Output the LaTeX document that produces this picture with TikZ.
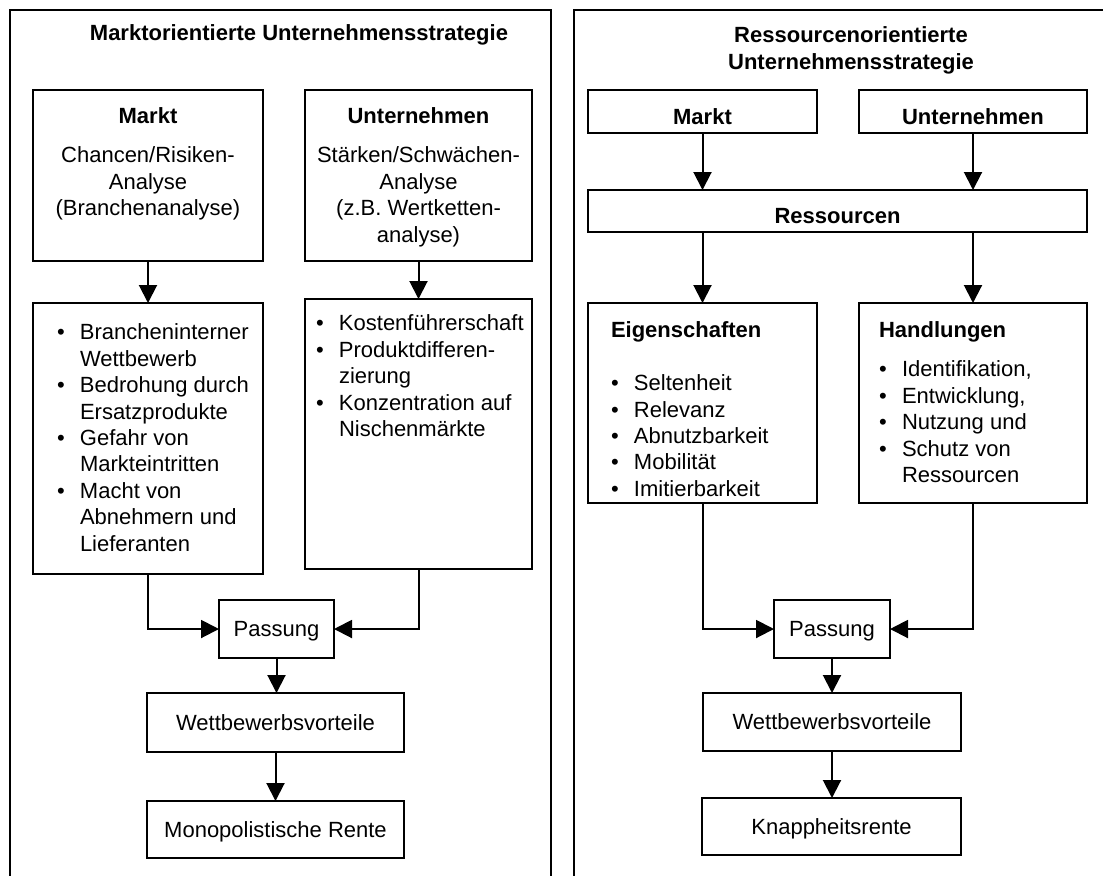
\documentclass[tikz,border=0pt]{standalone}
\usepackage{fontspec}
\setmainfont{Liberation Sans}
\usetikzlibrary{arrows.meta}

\tikzset{
  frame/.style={line width=1.1pt},
  box/.style={draw, line width=1.1pt, inner sep=0pt, outer sep=0pt,
    font=\fontsize{11}{13.2}\selectfont,
    text height=8.9pt, text depth=1.3pt},
  boldbox/.style={box, font=\fontsize{11}{13.2}\selectfont\bfseries,
    text height=12.5pt, text depth=0pt},
  txt/.style={inner sep=0pt, outer sep=0pt, font=\fontsize{11}{13.2}\selectfont},
  arr/.style={line width=1pt, -{Triangle[length=9pt,width=9pt]}}
}

\begin{document}
\begin{tikzpicture}[x=0.5pt, y=-0.5pt]
  \useasboundingbox (0,0) rectangle (1103,875);
  \fill[white] (0,0) rectangle (1103,875);
  \clip (0,0) rectangle (1103,875);

  % ---------- outer frames ----------
  \draw[frame] (10,880) -- (10,10) -- (551,10) -- (551,880);
  \draw[frame] (574,880) -- (574,10) -- (1110,10);

  % ---------- market-oriented strategy ----------
  \node[txt, anchor=north] (ltitle) at (299,24.5)
    {\bfseries Marktorientierte Unternehmensstrategie};

  \node[box, minimum width=115pt, minimum height=85.5pt] (lmarkt) at (148,175.5) {};
  \node[txt, anchor=north] (lmarkttxt) at (148,105.5)
    {\begin{tabular}{@{}c@{}}\textbf{Markt}\\[6.3pt]
      Chancen/Risiken-\\ Analyse\\ (Branchenanalyse)\end{tabular}};

  \node[box, minimum width=113.5pt, minimum height=85.5pt] (lunt) at (418.5,175.5) {};
  \node[txt, anchor=north] (lunttxt) at (418.5,105.5)
    {\begin{tabular}{@{}c@{}}\textbf{Unternehmen}\\[6.3pt]
      Stärken/Schwächen-\\ Analyse\\ (z.B. Wertketten-\\ analyse)\end{tabular}};

  \node[box, minimum width=115pt, minimum height=135.5pt] (llist) at (148,438.5) {};
  \node[txt, anchor=north west] (llisttxt) at (57,321.5)
    {\begin{tabular}{@{}l@{\hspace{7.65pt}}l@{}}
      • & Brancheninterner\\ & Wettbewerb\\
      • & Bedrohung durch\\ & Ersatzprodukte\\
      • & Gefahr von\\ & Markteintritten\\
      • & Macht von\\ & Abnehmern und\\ & Lieferanten
    \end{tabular}};

  \node[box, minimum width=113.5pt, minimum height=135pt] (lsw) at (418.5,434) {};
  \node[txt, anchor=north west] (lswtxt) at (316,312.5)
    {\begin{tabular}{@{}l@{\hspace{7.65pt}}l@{}}
      • & Kostenführerschaft\\
      • & Produktdifferen-\\ & zierung\\
      • & Konzentration auf\\ & Nischenmärkte
    \end{tabular}};

  \node[box, minimum width=57.5pt, minimum height=29pt] (lpass) at (276.5,629) {Passung};
  \node[box, minimum width=128.5pt, minimum height=29.5pt] (lwett) at (275.5,722.5) {Wettbewerbsvorteile};
  \node[box, minimum width=128.5pt, minimum height=28.5pt] (lrente) at (275.5,829.5) {Monopolistische Rente};

  \draw[arr] (lmarkt.south) -- (llist.north);
  \draw[arr] (lunt.south) -- (lsw.north);
  \draw[arr] (llist.south) |- (lpass.west);
  \draw[arr] (lsw.south) |- (lpass.east);
  \draw[arr] (lpass.south) -- (lpass.south |- lwett.north);
  \draw[arr] (lwett.south) -- (lwett.south |- lrente.north);

  % ---------- resource-oriented strategy ----------
  \node[txt, anchor=north] (rtitle) at (851,24.5)
    {\begin{tabular}{@{}c@{}}\bfseries Ressourcenorientierte\\
      \bfseries Unternehmensstrategie\end{tabular}};

  \node[boldbox, minimum width=114.5pt, minimum height=21.5pt] (rmarkt) at (702.5,111.5) {Markt};
  \node[boldbox, minimum width=114pt, minimum height=21.5pt] (runt) at (973,111.5) {Unternehmen};
  \node[boldbox, minimum width=249.5pt, minimum height=21pt] (rres) at (837.5,211) {Ressourcen};

  \node[box, minimum width=114.5pt, minimum height=100pt] (reig) at (702.5,403) {};
  \node[txt, anchor=north west] (reigtxt) at (611,319.5)
    {\begin{tabular}{@{}l@{\hspace{7.65pt}}l@{}}
      \multicolumn{2}{@{}l@{}}{\textbf{Eigenschaften}}\\
      & \\
      • & Seltenheit\\
      • & Relevanz\\
      • & Abnutzbarkeit\\
      • & Mobilität\\
      • & Imitierbarkeit
    \end{tabular}};

  \node[box, minimum width=114pt, minimum height=100pt] (rhand) at (973,403) {};
  \node[txt, anchor=north west] (rhandtxt) at (879,319.5)
    {\begin{tabular}{@{}l@{\hspace{7.65pt}}l@{}}
      \multicolumn{2}{@{}l@{}}{\textbf{Handlungen}}\\[6.3pt]
      • & Identifikation,\\
      • & Entwicklung,\\
      • & Nutzung und\\
      • & Schutz von\\
        & Ressourcen
    \end{tabular}};

  \node[box, minimum width=58pt, minimum height=29pt] (rpass) at (832,629) {Passung};
  \node[box, minimum width=129pt, minimum height=29pt] (rwett) at (832,722) {Wettbewerbsvorteile};
  \node[box, minimum width=129.5pt, minimum height=28.5pt] (rrente) at (831.5,826.5) {Knappheitsrente};

  \draw[arr] (rmarkt.south) -- (rmarkt.south |- rres.north);
  \draw[arr] (runt.south) -- (runt.south |- rres.north);
  \draw[arr] (reig.north |- rres.south) -- (reig.north);
  \draw[arr] (rhand.north |- rres.south) -- (rhand.north);
  \draw[arr] (reig.south) |- (rpass.west);
  \draw[arr] (rhand.south) |- (rpass.east);
  \draw[arr] (rpass.south) -- (rwett.north);
  \draw[arr] (rwett.south) -- (rwett.south |- rrente.north);
\end{tikzpicture}
\end{document}
